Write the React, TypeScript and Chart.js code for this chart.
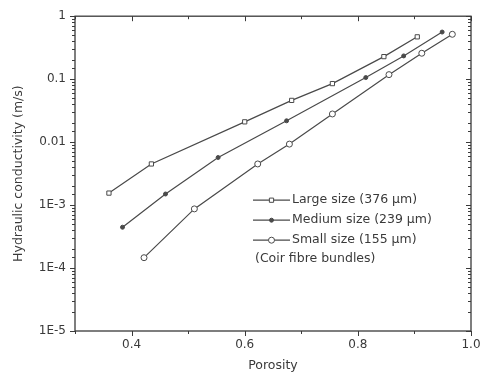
import React, { useEffect, useRef } from "react";
import { Chart, registerables } from "chart.js";
import { drawPoint } from "chart.js/helpers";

Chart.register(...registerables);

// ---------- data ----------
const seriesLabels = ["Large size (376 µm)", "Medium size (239 µm)", "Small size (155 µm)"];
const legendNote = "(Coir fibre bundles)";

const largePorosity = [0.36, 0.435, 0.6, 0.683, 0.755, 0.846, 0.905];
const largeConductivity = [1.55e-3, 4.5e-3, 0.021, 0.046, 0.085, 0.228, 0.47];

const mediumPorosity = [0.384, 0.46, 0.553, 0.674, 0.814, 0.881, 0.949];
const mediumConductivity = [4.45e-4, 1.5e-3, 5.7e-3, 0.0218, 0.106, 0.234, 0.56];

const smallPorosity = [0.422, 0.511, 0.623, 0.679, 0.755, 0.855, 0.913, 0.967];
const smallConductivity = [1.46e-4, 8.7e-4, 4.5e-3, 9.3e-3, 0.028, 0.118, 0.258, 0.516];

const xMin = 0.3;
const xMax = 1.0;
const xStep = 0.1;
const xTickValues = [0.4, 0.6, 0.8, 1.0];
const xTickLabels = ["0.4", "0.6", "0.8", "1.0"];

const yMin = 1e-5;
const yMax = 1;
const yTickValues = [1, 0.1, 0.01, 1e-3, 1e-4, 1e-5];
const yTickLabels = ["1", "0.1", "0.01", "1E-3", "1E-4", "1E-5"];

const xTitle = "Porosity";
const yTitle = "Hydraulic conductivity (m/s)";

// ---------- styling ----------
const FONT = "'DejaVu Sans', 'Liberation Sans', Arial, sans-serif";
const INK = "#3a3a3a";
const LINE = "#4a4a4a";

const toPoints = (xs: number[], ys: number[]) => xs.map((x, i) => ({ x, y: ys[i] }));

const findLabel = (v: number, values: number[], labels: string[]) => {
  for (let i = 0; i < values.length; i++) {
    if (Math.abs(Math.log10(v) - Math.log10(values[i])) < 1e-6) return labels[i];
  }
  return "";
};
const findLinLabel = (v: number) => {
  for (let i = 0; i < xTickValues.length; i++) {
    if (Math.abs(v - xTickValues[i]) < 1e-6) return xTickLabels[i];
  }
  return "";
};

const framePlugin = {
  id: "frameTicks",
  afterDraw(chart: any) {
    const { ctx, chartArea: ca, scales } = chart;
    ctx.save();
    ctx.strokeStyle = INK;
    ctx.lineWidth = 1;
    for (const t of scales.x.ticks) {
      const px = Math.round(scales.x.getPixelForValue(t.value)) + 0.5;
      const major = findLinLabel(t.value) !== "";
      const len = major ? 5 : 3;
      ctx.beginPath();
      ctx.moveTo(px, ca.bottom);
      ctx.lineTo(px, ca.bottom + len);
      ctx.moveTo(px, ca.top);
      ctx.lineTo(px, ca.top + len);
      ctx.stroke();
    }
    for (const t of scales.y.ticks) {
      const py = Math.round(scales.y.getPixelForValue(t.value)) + 0.5;
      const major = findLabel(t.value, yTickValues, yTickLabels) !== "";
      const len = major ? 5 : 3;
      ctx.beginPath();
      ctx.moveTo(ca.left, py);
      ctx.lineTo(ca.left - len, py);
      ctx.moveTo(ca.right, py);
      ctx.lineTo(ca.right - len, py);
      ctx.stroke();
    }
    ctx.lineWidth = 1.3;
    ctx.strokeRect(ca.left, ca.top, ca.right - ca.left, ca.bottom - ca.top);

    // legend inside the plot area
    const x0 = ca.left + 178;
    const x1 = ca.left + 215;
    const rows = [184, 204, 224];
    ctx.font = `12.5px ${FONT}`;
    ctx.textBaseline = "middle";
    ctx.textAlign = "left";
    chart.data.datasets.forEach((ds: any, i: number) => {
      const y = ca.top + rows[i];
      ctx.strokeStyle = ds.borderColor;
      ctx.lineWidth = ds.borderWidth;
      ctx.beginPath();
      ctx.moveTo(x0, y);
      ctx.lineTo(x1, y);
      ctx.stroke();
      ctx.fillStyle = ds.pointBackgroundColor;
      ctx.strokeStyle = ds.pointBorderColor;
      ctx.lineWidth = 1;
      drawPoint(ctx, { pointStyle: ds.pointStyle, radius: ds.pointRadius, rotation: 0, borderWidth: 1 }, (x0 + x1) / 2, y);
      ctx.fillStyle = INK;
      ctx.fillText(ds.label, x1 + 2, y);
    });
    ctx.fillStyle = INK;
    ctx.fillText(legendNote, ca.left + 180, ca.top + 243);
    ctx.restore();
  },
};

export default function App() {
  const ref = useRef<HTMLCanvasElement | null>(null);

  useEffect(() => {
    document.body.style.margin = "0";
    const canvas = ref.current;
    if (!canvas) return;
    const common = {
      showLine: true,
      borderColor: LINE,
      borderWidth: 1.2,
      pointBorderColor: LINE,
      pointBorderWidth: 1,
      pointHoverRadius: 4,
    };
    const chart = new Chart(canvas, {
      type: "scatter",
      data: {
        datasets: [
          {
            ...common,
            label: seriesLabels[0],
            data: toPoints(largePorosity, largeConductivity),
            pointStyle: "rect",
            pointRadius: 3,
            pointBackgroundColor: "#ffffff",
          },
          {
            ...common,
            label: seriesLabels[1],
            data: toPoints(mediumPorosity, mediumConductivity),
            pointStyle: "circle",
            pointRadius: 2,
            pointBackgroundColor: LINE,
          },
          {
            ...common,
            label: seriesLabels[2],
            data: toPoints(smallPorosity, smallConductivity),
            pointStyle: "circle",
            pointRadius: 3,
            pointBackgroundColor: "#ffffff",
          },
        ],
      },
      options: {
        animation: false,
        responsive: false,
        events: [],
        layout: { padding: { left: 0, right: 17, top: 15, bottom: 0 } },
        plugins: { legend: { display: false }, tooltip: { enabled: false } },
        scales: {
          x: {
            type: "linear",
            min: xMin,
            max: xMax,
            grid: { display: false, drawTicks: false },
            border: { display: false },
            ticks: {
              stepSize: xStep,
              autoSkip: false,
              maxRotation: 0,
              padding: 7,
              color: INK,
              font: { family: FONT, size: 12 },
              callback: (v: any) => findLinLabel(Number(v)),
            },
            title: {
              display: true,
              text: xTitle,
              color: INK,
              font: { family: FONT, size: 12.5 },
              padding: { top: 0, bottom: 5 },
            },
            afterFit: (s: any) => {
              s.height = 47;
            },
          },
          y: {
            type: "logarithmic",
            min: yMin,
            max: yMax,
            grid: { display: false, drawTicks: false },
            border: { display: false },
            ticks: {
              autoSkip: false,
              padding: 9,
              color: INK,
              font: { family: FONT, size: 12 },
              callback: (v: any) => findLabel(Number(v), yTickValues, yTickLabels),
            },
            title: {
              display: true,
              text: yTitle,
              color: INK,
              font: { family: FONT, size: 12.5 },
              padding: { top: 11, bottom: 0 },
            },
            afterFit: (s: any) => {
              s.width = 75;
            },
          },
        },
      },
      plugins: [framePlugin],
    } as any);
    return () => chart.destroy();
  }, []);

  return (
    <div style={{ width: 488, height: 378, background: "#fff" }}>
      <canvas ref={ref} width={488} height={378} style={{ display: "block" }} />
    </div>
  );
}
